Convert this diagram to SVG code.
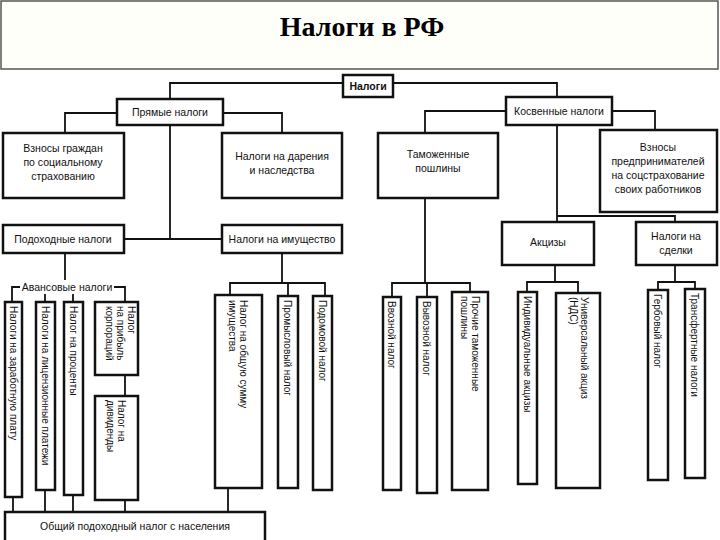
<svg xmlns="http://www.w3.org/2000/svg" width="720" height="540" viewBox="0 0 720 540">
<style>
.b{fill:#fff;stroke:#111;stroke-width:2.5}
.t{font-family:"Liberation Sans",Arial,sans-serif;font-size:10.5px;fill:#111;text-anchor:middle}
.v{font-family:"Liberation Sans",Arial,sans-serif;font-size:10px;fill:#111}
.c path{fill:none;stroke:#111;stroke-width:1.8}
</style>
<rect width="720" height="540" fill="#fff"/>
<rect x="1" y="1" width="717" height="68" fill="#fffffa" stroke="#555" stroke-width="1.5"/>
<text x="362" y="36" font-family="Liberation Serif,serif" font-size="28" font-weight="bold" text-anchor="middle">Налоги в РФ</text>
<g class="c">
<path d="M343 83H170V99M393 83H557V97"/>
<path d="M117 113H65V133M223 113H282V133M170 125V239M124 239H222"/>
<path d="M506 111H425V133M612 111H655V130M557 125V222M557 216H675V222"/>
<path d="M65 253V287M12 302V287H125V302M45 287V302M73 287V302M125 375V396"/>
<path d="M13 497V512M45 490V512M73 495V512M125 500V512M228 488V512"/>
<path d="M282 253V283M230 295V283H325V296M288 283V296"/>
<path d="M425 198V283M392 297V283H470V292M427 283V297"/>
<path d="M555 265V282M527 292V282H578V293"/>
<path d="M675 265V282M658 290V282H695V289"/>
</g>
<g id="n0"><rect class="b" x="343" y="75" width="50" height="22"/><text class="t" x="368" y="90" font-weight="bold">Налоги</text></g>
<g id="n1"><rect class="b" x="117" y="99" width="106" height="26"/><text class="t" x="170" y="116">Прямые налоги</text></g>
<g id="n2"><rect class="b" x="506" y="97" width="106" height="28"/><text class="t" x="559" y="115">Косвенные налоги</text></g>
<g id="n3"><rect class="b" x="3" y="133" width="121" height="65"/><text class="t" x="63" y="152">Взносы граждан</text><text class="t" x="63" y="166">по социальному</text><text class="t" x="63" y="180">страхованию</text></g>
<g id="n4"><rect class="b" x="222" y="133" width="120" height="65"/><text class="t" x="282" y="160">Налоги на дарения</text><text class="t" x="282" y="174">и наследства</text></g>
<g id="n5"><rect class="b" x="378" y="133" width="120" height="65"/><text class="t" x="438" y="158">Таможенные</text><text class="t" x="438" y="172">пошлины</text></g>
<g id="n6"><rect class="b" x="600" y="130" width="117" height="82"/><text class="t" x="658" y="151">Взносы</text><text class="t" x="658" y="165">предпринимателей</text><text class="t" x="658" y="179">на соцстрахование</text><text class="t" x="658" y="193">своих работников</text></g>
<g id="n7"><rect class="b" x="3" y="225" width="121" height="28"/><text class="t" x="63" y="243">Подоходные налоги</text></g>
<g id="n8"><rect class="b" x="222" y="225" width="120" height="28"/><text class="t" x="282" y="243">Налоги на имущество</text></g>
<g id="n9"><rect class="b" x="502" y="222" width="92" height="43"/><text class="t" x="548" y="246">Акцизы</text></g>
<g id="n10"><rect class="b" x="636" y="222" width="81" height="43"/><text class="t" x="676" y="240">Налоги на</text><text class="t" x="676" y="254">сделки</text></g>
<g id="lbl"><rect x="20" y="280" width="94" height="14" fill="#fff"/><text class="t" x="67" y="291">Авансовые налоги</text></g>
<g id="v1"><rect class="b" x="5" y="302" width="17" height="195"/><text class="v" transform="translate(10,306) rotate(90)">Налоги на заработную плату</text></g>
<g id="v2"><rect class="b" x="36" y="302" width="19" height="188"/><text class="v" transform="translate(42,306) rotate(90)">Налоги на лицензионные платежи</text></g>
<g id="v3"><rect class="b" x="64" y="302" width="19" height="193"/><text class="v" transform="translate(70,306) rotate(90)">Налог на проценты</text></g>
<g id="v4"><rect class="b" x="95" y="302" width="43" height="73"/><text class="v" transform="translate(128,306) rotate(90)">Налог</text><text class="v" transform="translate(117,306) rotate(90)">на прибыль</text><text class="v" transform="translate(106,306) rotate(90)">корпораций</text></g>
<g id="v5"><rect class="b" x="95" y="396" width="43" height="104"/><text class="v" transform="translate(118,400) rotate(90)">Налог на</text><text class="v" transform="translate(107,400) rotate(90)">дивиденды</text></g>
<g id="v6"><rect class="b" x="215" y="295" width="47" height="193"/><text class="v" transform="translate(240,300) rotate(90)">Налог на общую сумму</text><text class="v" transform="translate(229,300) rotate(90)">имущества</text></g>
<g id="v7"><rect class="b" x="278" y="296" width="20" height="192"/><text class="v" transform="translate(284,300) rotate(90)">Промысловый налог</text></g>
<g id="v8"><rect class="b" x="313" y="296" width="19" height="194"/><text class="v" transform="translate(319,300) rotate(90)">Подомовой налог</text></g>
<g id="v9"><rect class="b" x="383" y="297" width="18" height="193"/><text class="v" transform="translate(388,301) rotate(90)">Ввозной налог</text></g>
<g id="v10"><rect class="b" x="417" y="297" width="20" height="196"/><text class="v" transform="translate(423,301) rotate(90)">Вывозной налог</text></g>
<g id="v11"><rect class="b" x="452" y="292" width="36" height="198"/><text class="v" transform="translate(472,296) rotate(90)">Прочие таможенные</text><text class="v" transform="translate(461,296) rotate(90)">пошлины</text></g>
<g id="v12"><rect class="b" x="518" y="292" width="19" height="192"/><text class="v" transform="translate(524,296) rotate(90)">Индивидуальные акцизы</text></g>
<g id="v13"><rect class="b" x="556" y="293" width="44" height="195"/><text class="v" transform="translate(581,297) rotate(90)">Универсальный акциз</text><text class="v" transform="translate(570,297) rotate(90)">(НДС)</text></g>
<g id="v14"><rect class="b" x="648" y="290" width="20" height="190"/><text class="v" transform="translate(654,294) rotate(90)">Гербовый налог</text></g>
<g id="v15"><rect class="b" x="685" y="289" width="20" height="189"/><text class="v" transform="translate(691,293) rotate(90)">Трансфертные налоги</text></g>
<g id="n11"><rect class="b" x="5" y="512" width="260" height="30"/><text class="t" x="135" y="530">Общий подоходный налог с населения</text></g>
</svg>
